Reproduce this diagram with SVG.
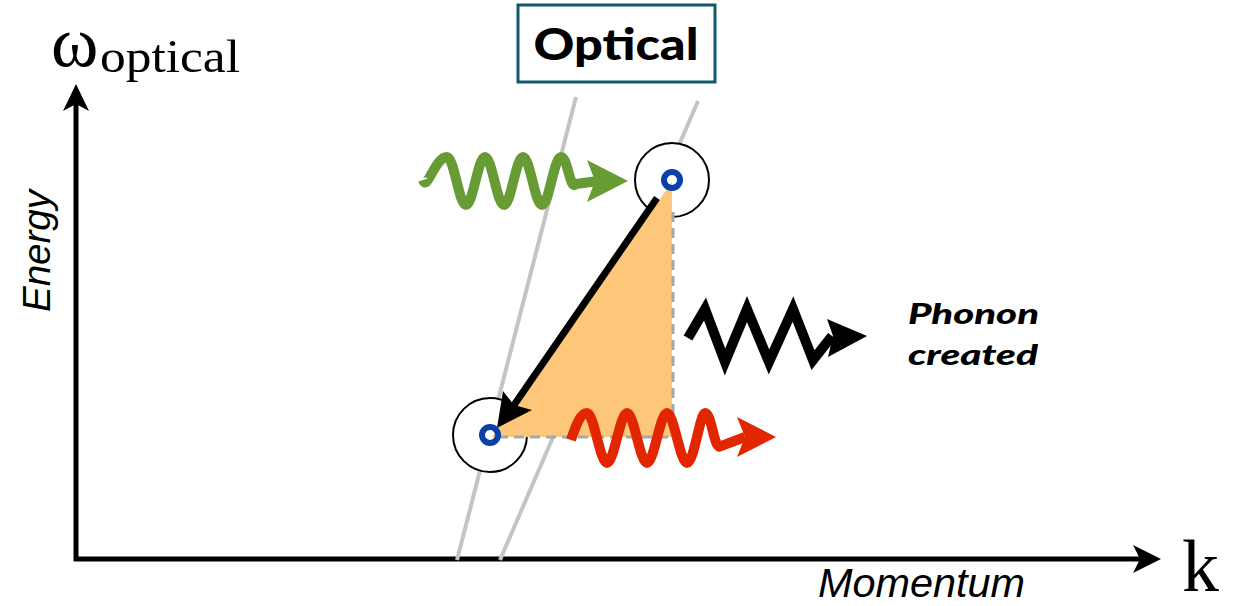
<svg xmlns="http://www.w3.org/2000/svg" width="1242" height="606" viewBox="0 0 1242 606">
<style>
.axis{stroke:#000;stroke-width:5;fill:none}
.disp{stroke:#c4c4c4;stroke-width:4;fill:none}
.dash{stroke:#a8a8a8;stroke-width:3;stroke-dasharray:10 6;fill:none}
.outer{fill:#fff;stroke:#000;stroke-width:2}
.ring{fill:none;stroke:#0a40a8;stroke-width:6}
.lbl{font-family:"Liberation Sans","Open Sans",sans-serif;font-style:italic}
.math{font-family:"Liberation Serif","DejaVu Serif",serif}
</style>
<rect width="1242" height="606" fill="#fff"/>
<g id="axes">
<line class="axis" x1="76" y1="561" x2="76" y2="104"/>
<polygon points="76,84 63,111 76,104 89,111" fill="#000"/>
<line class="axis" x1="74" y1="559" x2="1140" y2="559"/>
<polygon points="1161,559 1133,545 1140,559 1133,573" fill="#000"/>
</g>
<g id="labels">
<text class="math" x="51" y="66" font-size="72">ω</text>
<text class="math" x="100" y="72" font-size="46" textLength="140" lengthAdjust="spacingAndGlyphs">optical</text>
<text class="math" x="1182" y="591" font-size="74">k</text>
<text class="lbl" x="818" y="597" font-size="40" textLength="207" lengthAdjust="spacingAndGlyphs">Momentum</text>
<text class="lbl" transform="translate(50,312) rotate(-90)" font-size="38" textLength="122" lengthAdjust="spacingAndGlyphs">Energy</text>
</g>
<g id="dispersion">
<line class="disp" x1="576" y1="97" x2="457" y2="560"/>
<line class="disp" x1="698" y1="101" x2="500" y2="560"/>
</g>
<g id="optical-box">
<rect x="518" y="5" width="197" height="77" fill="#fff" stroke="#14586c" stroke-width="3"/>
<text x="616" y="60" text-anchor="middle" font-family="Lato,'Open Sans',sans-serif" font-weight="900" font-size="44" textLength="165" lengthAdjust="spacingAndGlyphs">Optical</text>
</g>
<g id="state-top"><circle class="outer" cx="672" cy="180" r="37"/></g>
<g id="state-bottom"><circle class="outer" cx="490" cy="435" r="37"/></g>
<g id="triangle">
<polygon points="672,182 672,437 492,437" fill="#fec679"/>
<line class="dash" x1="673" y1="212" x2="673" y2="437"/>
<line class="dash" x1="498" y1="437" x2="673" y2="437"/>
</g>
<g id="rings">
<circle class="ring" cx="672" cy="180" r="8"/>
<circle class="ring" cx="490" cy="435" r="8"/>
</g>
<g id="connectors">
<g id="photon-in">
<path d="M423 180 C427 192 435 157 447 157 C454 157 459 205 466 205 C473 205 478 157 485 157 C492 157 497 205 504 205 C511 205 516 157 523 157 C530 157 535 205 542 205 C549 205 554 157 561 157 C568 157 570 192 576 184 L598 181" fill="none" stroke="#679c35" stroke-width="10"/>
<polygon points="628,181 587,160 595,181 587,202" fill="#679c35"/>
</g>
<g id="photon-out">
<path d="M571 440 C575 428 580 413 587 413 C594 413 600 463 607 463 C614 463 620 413 627 413 C634 413 640 463 647 463 C654 463 660 413 667 413 C674 413 680 463 687 463 C694 463 700 413 705 413 C712 413 714 452 721 446 L745 437" fill="none" stroke="#e22600" stroke-width="10"/>
<polygon points="776,437 737,417 745,437 737,457" fill="#e22600"/>
</g>
<g id="phonon">
<polyline points="688,338 705,309 725,362 747,309 769,362 793,309 813,360 832,336" fill="none" stroke="#000" stroke-width="10" stroke-linejoin="miter"/>
<polygon points="867,336 827,319 833,336 828,357" fill="#000"/>
</g>
<g id="transition">
<line x1="657" y1="198" x2="512" y2="408" stroke="#000" stroke-width="7"/>
<polygon points="497,428 503,391 514,405 532,410" fill="#000"/>
</g>
</g>
<g id="phonon-label">
<text x="908" y="324" font-family="Lato,'Open Sans',sans-serif" font-weight="900" font-style="italic" font-size="29" textLength="131" lengthAdjust="spacingAndGlyphs">Phonon</text>
<text x="908" y="365" font-family="Lato,'Open Sans',sans-serif" font-weight="900" font-style="italic" font-size="29" textLength="130" lengthAdjust="spacingAndGlyphs">created</text>
</g>
</svg>
